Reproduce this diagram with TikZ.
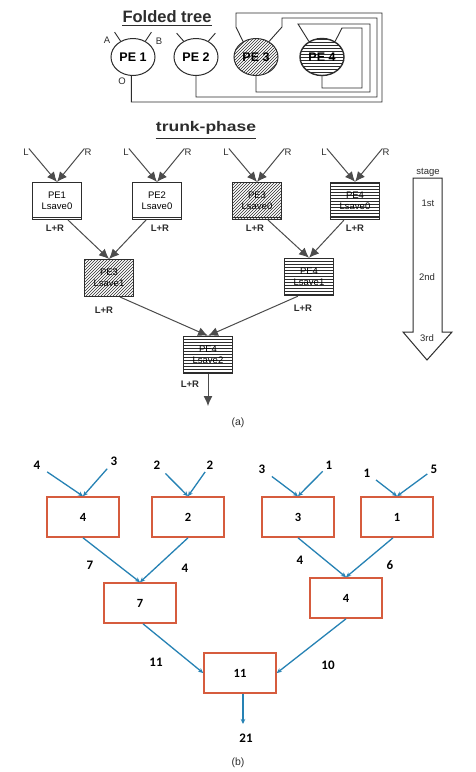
\documentclass[tikz,border=0pt]{standalone}
\usepackage{fontspec}
\usepackage{graphicx}
\setmainfont{Liberation Sans}
\newfontfamily\bfam{Carlito}
\usetikzlibrary{shapes.geometric,patterns,arrows.meta,calc}
\definecolor{boxred}{RGB}{214,92,62}
\definecolor{arrblue}{RGB}{38,130,180}
\definecolor{ink}{RGB}{45,45,45}
\begin{document}
\begin{tikzpicture}[x=1pt,y=-1pt,
  pe/.style={ellipse,draw=ink,line width=1pt,minimum width=44pt,minimum height=37pt,inner sep=0pt,font=\fontsize{12.5}{12.5}\selectfont\bfseries},
  wire/.style={draw=ink,line width=0.9pt},
  tbox/.style={rectangle,draw=ink,line width=1pt,minimum width=49pt,minimum height=37pt,inner sep=0pt,align=center,font=\fontsize{9.5}{11}\selectfont},
  hatchA/.style={pattern=north east lines,pattern color=ink},
  hatchB/.style={pattern=horizontal lines,pattern color=ink,line width=1.4pt},
  tarr/.style={draw=ink!85,line width=1pt,-{Latex[length=10pt,width=9pt]}},
  small/.style={font=\fontsize{9.5}{10}\selectfont,text=ink,inner sep=0pt},
  lr/.style={font=\fontsize{9.5}{10}\selectfont\bfseries,text=ink,inner sep=0pt},
  rbox/.style={rectangle,draw=boxred,line width=1.6pt,fill=white,minimum width=72pt,minimum height=40pt,inner sep=0pt,font=\bfam\bfseries\fontsize{12.5}{12.5}\selectfont},
  barr/.style={draw=arrblue,line width=1.3pt,-{Stealth[length=5pt,width=4.5pt]}},
  num/.style={font=\bfam\bfseries\fontsize{13}{13}\selectfont,inner sep=0pt},
  captxt/.style={font=\fontsize{10.5}{11}\selectfont,text=ink,inner sep=0pt}
]
\fill[white] (0,0) rectangle (475,772);
\useasboundingbox (0,0) rectangle (475,772);

% ---------------- Folded tree ----------------
\node[font=\fontsize{16.5}{16.5}\selectfont\bfseries,text=ink,inner sep=0pt] (ft) at (167,17) {Folded tree};
\draw[wire] ([yshift=-2pt]ft.south west) -- ([yshift=-2pt]ft.south east);

\node[pe] (c1) at (133,57) {PE 1};
\node[pe] (c2) at (196,57) {PE 2};
\node[pe,hatchA] (c3) at (256,57) {PE 3};
\node[pe,hatchB] (c4) at (322,57) {PE 4};

\node[small] (lA) at (107,40) {A};
\node[small] (lB) at (159,41) {B};
\node[small] (lO) at (122,81) {O};
\draw[wire] (c1.128) -- ++(-6,-9);
\draw[wire] (c1.52) -- ++(6,-9);
\draw[wire] (c2.128) -- ++(-7,-8);
\draw[wire] (c2.52) -- ++(7,-8);

% outputs looped back
\draw[wire] (c1.-95) |- (382,102) -- (382,13) -| (236,27) -- (c3.130);
\draw[wire] (c2.south) |- (377,97) -- (377,18) -| (282,27) -- (c3.50);
\draw[wire] (c3.south) |- (370,92) -- (370,24) -- (298,24) -- (c4.130);
\draw[wire] (c4.south) |- (362,88) -- (362,28) -- (342,28) -- (c4.50);

% ---------------- trunk-phase ----------------
\node[text=ink,inner sep=0pt] (tp) at (206,128) {\scalebox{1.25}[1]{\fontsize{14}{14}\selectfont\bfseries trunk-phase}};
\draw[wire] ([yshift=-4pt]tp.south west) -- ([yshift=-4pt]tp.south east);

\node[tbox] (b1) at (57,201) {PE1\\Lsave0};
\node[tbox] (b2) at (157,201) {PE2\\Lsave0};
\node[tbox,hatchA] (b3) at (257,201) {PE3\\Lsave0};
\node[tbox,hatchB] (b4) at (355,201) {PE4\\Lsave0};
\foreach \b in {b1,b2,b3,b4}{\draw[ink,line width=0.8pt] ([yshift=3pt]\b.south west) -- ([yshift=3pt]\b.south east);}
\node[tbox,hatchA] (b5) at (109,278) {PE3\\Lsave1};
\node[tbox,hatchB] (b6) at (309,277) {PE4\\Lsave1};
\node[tbox,hatchB] (b7) at (208,355) {PE4\\Lsave2};

\foreach \b/\cx in {b1/57,b2/157,b3/257,b4/355}{
  \node[small] (L\b) at (\cx-31,152) {L};
  \node[small] (R\b) at (\cx+31,152) {R};
  \draw[tarr] (L\b.north east) -- (\b.north);
  \draw[tarr] (R\b.north west) -- (\b.north);
}
\node[lr] (s1) at (55,228) {L+R};
\node[lr] (s2) at (160,228) {L+R};
\node[lr] (s3) at (255,228) {L+R};
\node[lr] (s4) at (355,228) {L+R};
\node[lr] (s5) at (104,310) {L+R};
\node[lr] (s6) at (303,308) {L+R};
\node[lr] (s7) at (190,384) {L+R};

\draw[tarr] (b1.-60) -- (b5.north);
\draw[tarr] (b2.-120) -- (b5.north);
\draw[tarr] (b3.-60) -- (b6.north);
\draw[tarr] (b4.-120) -- (b6.north);
\draw[tarr] (b5.-60) -- (b7.north);
\draw[tarr] (b6.-120) -- (b7.north);
\coordinate (aout) at (208,406);
\draw[tarr] (b7.south) -- (aout);

% stage arrow
\draw[ink,line width=1pt] (413,178) -- (442,178) -- (442,332) -- (452,332) -- (427,360) -- (403,332) -- (413,332) -- cycle;
\node[small] (st) at (428,172) {stage};
\node[small] (st1) at (428,203) {1st};
\node[small] (st2) at (427,277) {2nd};
\node[small] (st3) at (427,338) {3rd};

\node[captxt] (capa) at (238,423) {(a)};

% ---------------- part (b) ----------------
\node[rbox] (A1) at (83,517) {4};
\node[rbox] (A2) at (188,517) {2};
\node[rbox] (A3) at (298,517) {3};
\node[rbox] (A4) at (397,517) {1};
\node[rbox] (B1) at (140,603) {7};
\node[rbox] (B2) at (346,598) {4};
\node[rbox] (C) at (240,673) {11};

\node[num] (i1) at (37,465) {4};
\node[num] (i2) at (114,461) {3};
\node[num] (i3) at (157,465) {2};
\node[num] (i4) at (210,465) {2};
\node[num] (i5) at (262,469) {3};
\node[num] (i6) at (329,465) {1};
\node[num] (i7) at (367,473) {1};
\node[num] (i8) at (434,469) {5};

\draw[barr,shorten <=8pt] (i1) -- (A1.north);
\draw[barr,shorten <=5pt] (i2) -- (A1.north);
\draw[barr,shorten <=7pt] (i3) -- (A2.north);
\draw[barr,shorten <=3pt] (i4) -- (A2.north);
\draw[barr,shorten <=8pt] (i5) -- (A3.north);
\draw[barr,shorten <=4pt] (i6) -- (A3.north);
\draw[barr,shorten <=7pt] (i7) -- (A4.north);
\draw[barr,shorten <=4pt] (i8) -- (A4.north);

\draw[barr] (A1.south) -- (B1.north);
\draw[barr] (A2.south) -- (B1.north);
\draw[barr] (A3.south) -- (B2.north);
\draw[barr] ([xshift=-4pt]A4.south) -- (B2.north);
\draw[barr] ([xshift=3pt]B1.south) -- (C.west);
\draw[barr] (B2.south) -- (C.east);
\coordinate (bout) at (243,724);
\draw[barr] ([xshift=3pt]C.south) -- (bout);

\node[num] (e1) at (90,565) {7};
\node[num] (e2) at (185,568) {4};
\node[num] (e3) at (300,560) {4};
\node[num] (e4) at (390,565) {6};
\node[num] (e5) at (156,662) {11};
\node[num] (e6) at (328,665) {10};
\node[num] (e7) at (246,738) {21};

\node[captxt] (capb) at (238,763) {(b)};
\end{tikzpicture}
\end{document}
